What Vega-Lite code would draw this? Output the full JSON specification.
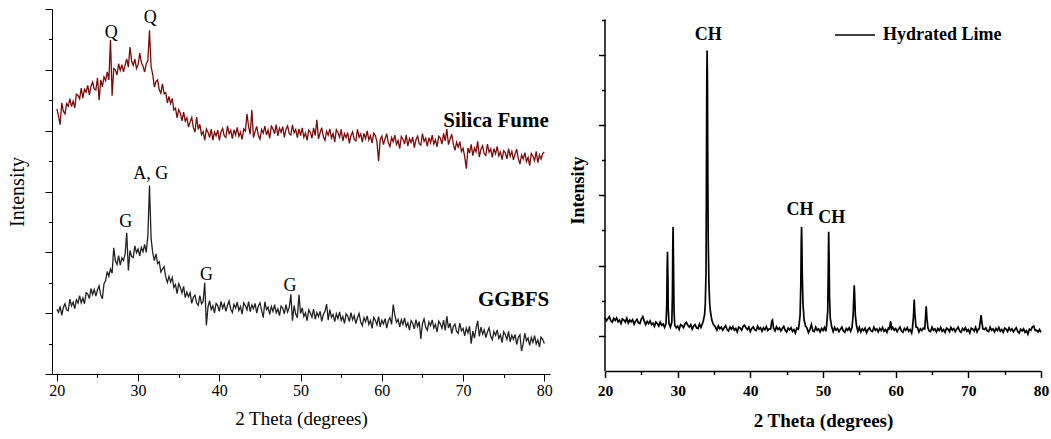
{
"$schema":"https://vega.github.io/schema/vega-lite/v6.json",
"background":"white",
"padding":{"left":7,"top":8,"right":5,"bottom":5},
"spacing":16,
"config":{"font":"Liberation Serif","view":{"stroke":null},"axis":{"grid":false,"domainColor":"#000","tickColor":"#000","labelColor":"#000","titleColor":"#000","labelFont":"Liberation Serif","titleFont":"Liberation Serif","labelFlush":false,"labelOverlap":false,"labelBound":false},"text":{"font":"Liberation Serif","color":"#000"},"title":{"font":"Liberation Serif"}},
"datasets":{
"xrd":[
{"x":20.0,"sf":8.72,"gg":2.13},{"x":20.2,"sf":8.48,"gg":2.03},{"x":20.4,"sf":8.2,"gg":2.22},{"x":20.6,"sf":8.91,"gg":1.93},{"x":20.8,"sf":8.64,"gg":2.19},
{"x":21.0,"sf":8.55,"gg":2.31},{"x":21.2,"sf":8.89,"gg":2.11},{"x":21.4,"sf":8.80,"gg":2.08},{"x":21.6,"sf":9.05,"gg":2.46},{"x":21.8,"sf":8.79,"gg":2.24},
{"x":22.0,"sf":8.97,"gg":2.36},{"x":22.2,"sf":8.75,"gg":2.15},{"x":22.4,"sf":9.20,"gg":2.44},{"x":22.6,"sf":9.16,"gg":2.33},{"x":22.8,"sf":9.05,"gg":2.58},
{"x":23.0,"sf":9.40,"gg":2.34},{"x":23.2,"sf":9.07,"gg":2.50},{"x":23.4,"sf":9.36,"gg":2.31},{"x":23.6,"sf":9.27,"gg":2.67},{"x":23.8,"sf":9.49,"gg":2.63},
{"x":24.0,"sf":9.18,"gg":2.48},{"x":24.2,"sf":9.46,"gg":2.81},{"x":24.4,"sf":9.60,"gg":2.61},{"x":24.6,"sf":9.37,"gg":2.78},{"x":24.8,"sf":9.34,"gg":2.56},
{"x":25.0,"sf":9.74,"gg":2.77},{"x":25.2,"sf":9.0,"gg":2.90},{"x":25.4,"sf":9.67,"gg":2.60},{"x":25.6,"sf":9.44,"gg":2.47},{"x":25.8,"sf":9.77,"gg":2.97},
{"x":26.0,"sf":9.64,"gg":3.07},{"x":26.2,"sf":9.93,"gg":3.37},{"x":26.4,"sf":9.67,"gg":3.21},{"x":26.6,"sf":10.98,"gg":3.45},{"x":26.8,"sf":9.15,"gg":3.31},
{"x":27.0,"sf":10.04,"gg":4.15},{"x":27.2,"sf":10.00,"gg":3.72},{"x":27.4,"sf":9.83,"gg":3.60},{"x":27.6,"sf":10.20,"gg":3.89},{"x":27.8,"sf":9.98,"gg":3.58},
{"x":28.0,"sf":10.17,"gg":3.82},{"x":28.2,"sf":9.93,"gg":3.73},{"x":28.4,"sf":10.16,"gg":3.94},{"x":28.6,"sf":10.36,"gg":4.64},{"x":28.8,"sf":10.09,"gg":3.40},
{"x":29.0,"sf":10.75,"gg":4.06},{"x":29.2,"sf":10.29,"gg":3.86},{"x":29.4,"sf":10.15,"gg":3.83},{"x":29.6,"sf":10.35,"gg":4.21},{"x":29.8,"sf":10.04,"gg":3.99},
{"x":30.0,"sf":10.17,"gg":4.11},{"x":30.2,"sf":10.55,"gg":3.88},{"x":30.4,"sf":10.24,"gg":4.16},{"x":30.6,"sf":10.12,"gg":4.02},{"x":30.8,"sf":9.93,"gg":4.26},
{"x":31.0,"sf":10.20,"gg":4.00},{"x":31.2,"sf":10.30,"gg":4.55},{"x":31.4,"sf":11.30,"gg":6.20},{"x":31.6,"sf":10.10,"gg":4.45},{"x":31.8,"sf":9.85,"gg":3.98},
{"x":32.0,"sf":9.43,"gg":3.73},{"x":32.2,"sf":9.62,"gg":3.95},{"x":32.4,"sf":9.67,"gg":3.63},{"x":32.6,"sf":9.35,"gg":3.69},{"x":32.8,"sf":9.23,"gg":3.35},
{"x":33.0,"sf":9.54,"gg":3.45},{"x":33.2,"sf":9.21,"gg":3.53},{"x":33.4,"sf":9.25,"gg":3.19},{"x":33.6,"sf":8.91,"gg":3.01},{"x":33.8,"sf":9.13,"gg":3.21},
{"x":34.0,"sf":8.89,"gg":3.02},{"x":34.2,"sf":9.06,"gg":3.17},{"x":34.4,"sf":8.68,"gg":2.85},{"x":34.6,"sf":8.74,"gg":2.94},{"x":34.8,"sf":8.42,"gg":2.64},
{"x":35.0,"sf":8.69,"gg":2.97},{"x":35.2,"sf":8.57,"gg":2.84},{"x":35.4,"sf":8.32,"gg":2.66},{"x":35.6,"sf":8.61,"gg":2.88},{"x":35.8,"sf":8.31,"gg":2.51},
{"x":36.0,"sf":8.42,"gg":2.69},{"x":36.2,"sf":8.12,"gg":2.54},{"x":36.4,"sf":8.29,"gg":2.67},{"x":36.6,"sf":8.43,"gg":2.32},{"x":36.8,"sf":8.10,"gg":2.52},
{"x":37.0,"sf":7.95,"gg":2.59},{"x":37.2,"sf":8.45,"gg":2.34},{"x":37.4,"sf":8.04,"gg":2.26},{"x":37.6,"sf":8.21,"gg":2.58},{"x":37.8,"sf":7.87,"gg":2.31},
{"x":38.0,"sf":7.97,"gg":2.38},{"x":38.2,"sf":7.68,"gg":3.00},{"x":38.4,"sf":8.06,"gg":1.60},{"x":38.6,"sf":7.95,"gg":2.20},{"x":38.8,"sf":7.77,"gg":2.41},
{"x":39.0,"sf":8.05,"gg":2.12},{"x":39.2,"sf":7.69,"gg":2.24},{"x":39.4,"sf":7.95,"gg":2.01},{"x":39.6,"sf":7.83,"gg":2.32},{"x":39.8,"sf":8.02,"gg":2.25},
{"x":40.0,"sf":7.68,"gg":2.06},{"x":40.2,"sf":7.96,"gg":2.39},{"x":40.4,"sf":8.08,"gg":2.16},{"x":40.6,"sf":7.83,"gg":2.31},{"x":40.8,"sf":7.78,"gg":2.06},
{"x":41.0,"sf":8.16,"gg":2.25},{"x":41.2,"sf":7.90,"gg":2.40},{"x":41.4,"sf":8.01,"gg":2.13},{"x":41.6,"sf":7.74,"gg":2.02},{"x":41.8,"sf":8.03,"gg":2.29},
{"x":42.0,"sf":7.86,"gg":2.17},{"x":42.2,"sf":8.11,"gg":2.36},{"x":42.4,"sf":7.81,"gg":2.09},{"x":42.6,"sf":7.95,"gg":2.22},{"x":42.8,"sf":7.71,"gg":1.97},
{"x":43.0,"sf":8.06,"gg":2.34},{"x":43.2,"sf":7.99,"gg":2.25},{"x":43.4,"sf":8.55,"gg":2.11},{"x":43.6,"sf":8.13,"gg":2.38},{"x":43.8,"sf":7.88,"gg":2.05},
{"x":44.0,"sf":8.68,"gg":2.27},{"x":44.2,"sf":7.77,"gg":2.15},{"x":44.4,"sf":7.97,"gg":2.32},{"x":44.6,"sf":8.14,"gg":2.00},{"x":44.8,"sf":7.84,"gg":2.24},
{"x":45.0,"sf":7.72,"gg":2.34},{"x":45.2,"sf":8.04,"gg":2.10},{"x":45.4,"sf":7.92,"gg":1.85},{"x":45.6,"sf":8.15,"gg":2.37},{"x":45.8,"sf":7.86,"gg":2.12},
{"x":46.0,"sf":8.02,"gg":2.20},{"x":46.2,"sf":7.75,"gg":1.96},{"x":46.4,"sf":8.15,"gg":2.22},{"x":46.6,"sf":8.06,"gg":2.06},{"x":46.8,"sf":7.90,"gg":2.28},
{"x":47.0,"sf":8.20,"gg":2.01},{"x":47.2,"sf":7.83,"gg":2.14},{"x":47.4,"sf":8.08,"gg":1.92},{"x":47.6,"sf":7.95,"gg":2.23},{"x":47.8,"sf":8.13,"gg":2.16},
{"x":48.0,"sf":7.78,"gg":1.98},{"x":48.2,"sf":8.04,"gg":2.28},{"x":48.4,"sf":8.16,"gg":2.04},{"x":48.6,"sf":7.91,"gg":2.18},{"x":48.8,"sf":7.86,"gg":2.62},
{"x":49.0,"sf":8.19,"gg":1.75},{"x":49.2,"sf":7.93,"gg":2.25},{"x":49.4,"sf":8.04,"gg":1.97},{"x":49.6,"sf":7.77,"gg":1.85},{"x":49.8,"sf":8.06,"gg":2.60},
{"x":50.0,"sf":7.84,"gg":1.99},{"x":50.2,"sf":8.09,"gg":2.17},{"x":50.4,"sf":7.78,"gg":1.89},{"x":50.6,"sf":7.92,"gg":2.01},{"x":50.8,"sf":7.68,"gg":1.75},
{"x":51.0,"sf":8.02,"gg":2.11},{"x":51.2,"sf":7.95,"gg":2.01},{"x":51.4,"sf":7.75,"gg":1.87},{"x":51.6,"sf":8.09,"gg":2.13},{"x":51.8,"sf":7.84,"gg":1.80},
{"x":52.0,"sf":8.36,"gg":2.02},{"x":52.2,"sf":7.73,"gg":1.89},{"x":52.4,"sf":7.93,"gg":2.06},{"x":52.6,"sf":8.10,"gg":1.73},{"x":52.8,"sf":7.80,"gg":1.96},
{"x":53.0,"sf":7.68,"gg":2.06},{"x":53.2,"sf":7.98,"gg":2.30},{"x":53.4,"sf":7.85,"gg":1.77},{"x":53.6,"sf":8.06,"gg":2.12},{"x":53.8,"sf":7.76,"gg":1.87},
{"x":54.0,"sf":7.90,"gg":1.96},{"x":54.2,"sf":7.63,"gg":1.72},{"x":54.4,"sf":8.03,"gg":1.98},{"x":54.6,"sf":7.94,"gg":1.82},{"x":54.8,"sf":7.78,"gg":2.04},
{"x":55.0,"sf":8.04,"gg":1.76},{"x":55.2,"sf":7.66,"gg":1.89},{"x":55.4,"sf":7.90,"gg":1.66},{"x":55.6,"sf":7.77,"gg":1.98},{"x":55.8,"sf":7.94,"gg":1.90},
{"x":56.0,"sf":7.58,"gg":1.72},{"x":56.2,"sf":7.84,"gg":2.02},{"x":56.4,"sf":7.96,"gg":1.78},{"x":56.6,"sf":7.71,"gg":1.92},{"x":56.8,"sf":7.66,"gg":1.66},
{"x":57.0,"sf":8.04,"gg":1.85},{"x":57.2,"sf":7.78,"gg":1.99},{"x":57.4,"sf":7.89,"gg":1.71},{"x":57.6,"sf":7.62,"gg":1.59},{"x":57.8,"sf":7.91,"gg":1.85},
{"x":58.0,"sf":7.74,"gg":1.72},{"x":58.2,"sf":7.99,"gg":1.91},{"x":58.4,"sf":7.69,"gg":1.63},{"x":58.6,"sf":7.83,"gg":1.76},{"x":58.8,"sf":7.59,"gg":1.50},
{"x":59.0,"sf":7.92,"gg":1.86},{"x":59.2,"sf":7.84,"gg":1.77},{"x":59.4,"sf":7.63,"gg":1.62},{"x":59.6,"sf":7.00,"gg":1.89},{"x":59.8,"sf":7.71,"gg":1.55},
{"x":60.0,"sf":7.82,"gg":1.77},{"x":60.2,"sf":7.54,"gg":1.65},{"x":60.4,"sf":7.74,"gg":1.82},{"x":60.6,"sf":7.90,"gg":1.51},{"x":60.8,"sf":7.60,"gg":1.75},
{"x":61.0,"sf":7.48,"gg":1.85},{"x":61.2,"sf":7.77,"gg":1.63},{"x":61.4,"sf":7.64,"gg":2.28},{"x":61.6,"sf":7.85,"gg":1.94},{"x":61.8,"sf":7.55,"gg":1.70},
{"x":62.0,"sf":7.68,"gg":1.80},{"x":62.2,"sf":7.41,"gg":1.55},{"x":62.4,"sf":7.81,"gg":1.79},{"x":62.6,"sf":7.72,"gg":1.63},{"x":62.8,"sf":7.56,"gg":1.84},
{"x":63.0,"sf":7.86,"gg":1.56},{"x":63.2,"sf":7.49,"gg":1.68},{"x":63.4,"sf":7.74,"gg":1.44},{"x":63.6,"sf":7.61,"gg":1.75},{"x":63.8,"sf":7.79,"gg":1.67},
{"x":64.0,"sf":7.44,"gg":1.48},{"x":64.2,"sf":7.70,"gg":1.79},{"x":64.4,"sf":7.82,"gg":1.56},{"x":64.6,"sf":7.57,"gg":1.72},{"x":64.8,"sf":7.52,"gg":1.15},
{"x":65.0,"sf":7.90,"gg":1.66},{"x":65.2,"sf":7.64,"gg":1.81},{"x":65.4,"sf":7.75,"gg":1.54},{"x":65.6,"sf":7.48,"gg":1.44},{"x":65.8,"sf":7.77,"gg":1.71},
{"x":66.0,"sf":7.60,"gg":1.59},{"x":66.2,"sf":7.85,"gg":1.78},{"x":66.4,"sf":7.56,"gg":1.51},{"x":66.6,"sf":7.70,"gg":1.63},{"x":66.8,"sf":7.47,"gg":1.38},
{"x":67.0,"sf":7.82,"gg":1.74},{"x":67.2,"sf":7.76,"gg":1.65},{"x":67.4,"sf":7.56,"gg":1.50},{"x":67.6,"sf":7.91,"gg":1.77},{"x":67.8,"sf":7.66,"gg":1.43},
{"x":68.0,"sf":8.05,"gg":1.90},{"x":68.2,"sf":7.54,"gg":1.51},{"x":68.4,"sf":7.72,"gg":1.67},{"x":68.6,"sf":7.88,"gg":1.33},{"x":68.8,"sf":7.56,"gg":1.56},
{"x":69.0,"sf":7.35,"gg":1.64},{"x":69.2,"sf":7.62,"gg":1.40},{"x":69.4,"sf":7.46,"gg":1.34},{"x":69.6,"sf":7.64,"gg":1.67},{"x":69.8,"sf":7.31,"gg":1.42},
{"x":70.0,"sf":7.42,"gg":1.50},{"x":70.2,"sf":7.14,"gg":1.25},{"x":70.4,"sf":6.75,"gg":1.51},{"x":70.6,"sf":7.43,"gg":1.35},{"x":70.8,"sf":7.26,"gg":1.57},
{"x":71.0,"sf":7.55,"gg":1.00},{"x":71.2,"sf":7.18,"gg":1.41},{"x":71.4,"sf":7.43,"gg":1.18},{"x":71.6,"sf":7.30,"gg":1.50},{"x":71.8,"sf":7.65,"gg":1.75},
{"x":72.0,"sf":7.13,"gg":1.24},{"x":72.2,"sf":7.39,"gg":1.54},{"x":72.4,"sf":7.50,"gg":1.31},{"x":72.6,"sf":7.24,"gg":1.45},{"x":72.8,"sf":7.19,"gg":1.20},
{"x":73.0,"sf":7.56,"gg":1.38},{"x":73.2,"sf":7.29,"gg":1.52},{"x":73.4,"sf":7.40,"gg":1.25},{"x":73.6,"sf":7.12,"gg":1.13},{"x":73.8,"sf":7.41,"gg":1.40},
{"x":74.0,"sf":7.24,"gg":1.27},{"x":74.2,"sf":7.48,"gg":1.45},{"x":74.4,"sf":7.17,"gg":1.17},{"x":74.6,"sf":7.30,"gg":1.29},{"x":74.8,"sf":7.05,"gg":1.03},
{"x":75.0,"sf":7.34,"gg":1.39},{"x":75.2,"sf":7.27,"gg":1.29},{"x":75.4,"sf":7.07,"gg":1.14},{"x":75.6,"sf":7.41,"gg":1.40},{"x":75.8,"sf":7.16,"gg":1.06},
{"x":76.0,"sf":7.32,"gg":1.27},{"x":76.2,"sf":7.04,"gg":1.14},{"x":76.4,"sf":7.23,"gg":1.30},{"x":76.6,"sf":7.39,"gg":0.97},{"x":76.8,"sf":7.08,"gg":1.20},
{"x":77.0,"sf":6.90,"gg":1.29},{"x":77.2,"sf":7.20,"gg":0.75},{"x":77.4,"sf":7.07,"gg":1.00},{"x":77.6,"sf":7.28,"gg":1.34},{"x":77.8,"sf":6.98,"gg":1.09},
{"x":78.0,"sf":7.12,"gg":1.18},{"x":78.2,"sf":6.85,"gg":0.94},{"x":78.4,"sf":7.25,"gg":1.20},{"x":78.6,"sf":7.16,"gg":1.04},{"x":78.8,"sf":7.01,"gg":1.26},
{"x":79.0,"sf":7.32,"gg":0.99},{"x":79.2,"sf":6.95,"gg":1.12},{"x":79.4,"sf":7.20,"gg":0.89},{"x":79.6,"sf":7.07,"gg":1.21},{"x":79.8,"sf":7.25,"gg":1.14},
{"x":80.0,"sf":7.30,"gg":1.00}
],
"hl":[
{"x":20.0,"y":0.52},{"x":20.2,"y":0.43},{"x":20.4,"y":0.49},{"x":20.6,"y":0.55},{"x":20.8,"y":0.43},{"x":21.0,"y":0.39},{"x":21.2,"y":0.50},{"x":21.4,"y":0.44},{"x":21.6,"y":0.51},{"x":21.8,"y":0.40},
{"x":22.0,"y":0.45},{"x":22.2,"y":0.35},{"x":22.4,"y":0.48},{"x":22.6,"y":0.45},{"x":22.8,"y":0.39},{"x":23.0,"y":0.50},{"x":23.2,"y":0.36},{"x":23.4,"y":0.45},{"x":23.6,"y":0.40},{"x":23.8,"y":0.46},
{"x":24.0,"y":0.33},{"x":24.2,"y":0.42},{"x":24.4,"y":0.47},{"x":24.6,"y":0.37},{"x":24.8,"y":0.35},{"x":25.0,"y":0.48},{"x":25.2,"y":0.55},{"x":25.4,"y":0.42},{"x":25.6,"y":0.32},{"x":25.8,"y":0.41},
{"x":26.0,"y":0.35},{"x":26.2,"y":0.43},{"x":26.4,"y":0.32},{"x":26.6,"y":0.36},{"x":26.8,"y":0.27},{"x":27.0,"y":0.39},{"x":27.2,"y":0.35},{"x":27.4,"y":0.28},{"x":27.6,"y":0.39},{"x":27.8,"y":0.30},
{"x":28.0,"y":0.34},{"x":28.2,"y":0.24},{"x":28.4,"y":0.35},{"x":28.5,"y":0.9},{"x":28.55,"y":1.9},{"x":28.6,"y":2.39},{"x":28.65,"y":1.8},{"x":28.7,"y":0.8},{"x":28.8,"y":0.35},
{"x":29.0,"y":0.25},{"x":29.2,"y":0.4},{"x":29.28,"y":1.2},{"x":29.33,"y":2.6},{"x":29.37,"y":3.1},{"x":29.42,"y":2.2},{"x":29.5,"y":0.7},{"x":29.6,"y":0.3},
{"x":29.8,"y":0.23},{"x":30.0,"y":0.28},{"x":30.2,"y":0.18},{"x":30.4,"y":0.32},{"x":30.6,"y":0.29},{"x":30.8,"y":0.23},{"x":31.0,"y":0.34},{"x":31.2,"y":0.38},{"x":31.4,"y":0.30},{"x":31.6,"y":0.25},
{"x":31.8,"y":0.32},{"x":32.0,"y":0.19},{"x":32.2,"y":0.28},{"x":32.4,"y":0.32},{"x":32.6,"y":0.23},{"x":32.8,"y":0.21},{"x":33.0,"y":0.34},{"x":33.2,"y":0.24},
{"x":33.5,"y":0.4},{"x":33.7,"y":0.6},{"x":33.8,"y":0.9},{"x":33.9,"y":1.8},{"x":33.95,"y":4.0},{"x":34.0,"y":7.0},{"x":34.05,"y":8.12},{"x":34.1,"y":7.2},{"x":34.15,"y":4.5},{"x":34.2,"y":2.8},
{"x":34.3,"y":1.5},{"x":34.4,"y":0.95},{"x":34.5,"y":0.7},{"x":34.7,"y":0.45},{"x":34.9,"y":0.33},{"x":35.2,"y":0.25},
{"x":35.4,"y":0.16},{"x":35.6,"y":0.28},{"x":35.8,"y":0.20},{"x":36.0,"y":0.25},{"x":36.2,"y":0.16},{"x":36.4,"y":0.23},{"x":36.6,"y":0.29},{"x":36.8,"y":0.18},{"x":37.0,"y":0.14},{"x":37.2,"y":0.25},
{"x":37.4,"y":0.19},{"x":37.6,"y":0.26},{"x":37.8,"y":0.16},{"x":38.0,"y":0.21},{"x":38.2,"y":0.11},{"x":38.4,"y":0.25},{"x":38.6,"y":0.22},{"x":38.8,"y":0.16},{"x":39.0,"y":0.27},{"x":39.2,"y":0.30},
{"x":39.4,"y":0.23},{"x":39.6,"y":0.18},{"x":39.8,"y":0.25},{"x":40.0,"y":0.12},{"x":40.2,"y":0.21},{"x":40.4,"y":0.26},{"x":40.6,"y":0.17},{"x":40.8,"y":0.15},{"x":41.0,"y":0.28},{"x":41.2,"y":0.19},
{"x":41.4,"y":0.23},{"x":41.6,"y":0.13},{"x":41.8,"y":0.23},{"x":42.0,"y":0.17},{"x":42.2,"y":0.26},{"x":42.4,"y":0.15},{"x":42.6,"y":0.20},
{"x":42.8,"y":0.2},{"x":42.95,"y":0.42},{"x":43.05,"y":0.45},{"x":43.2,"y":0.22},
{"x":43.4,"y":0.14},{"x":43.6,"y":0.26},{"x":43.8,"y":0.18},{"x":44.0,"y":0.23},{"x":44.2,"y":0.14},{"x":44.4,"y":0.21},{"x":44.6,"y":0.27},{"x":44.8,"y":0.16},{"x":45.0,"y":0.11},{"x":45.2,"y":0.22},
{"x":45.4,"y":0.17},{"x":45.6,"y":0.23},{"x":45.8,"y":0.13},{"x":46.0,"y":0.18},{"x":46.2,"y":0.08},{"x":46.4,"y":0.22},{"x":46.6,"y":0.19},
{"x":46.7,"y":0.3},{"x":46.85,"y":0.6},{"x":46.95,"y":1.5},{"x":47.0,"y":2.6},{"x":47.05,"y":3.1},{"x":47.1,"y":2.6},{"x":47.15,"y":1.7},{"x":47.25,"y":0.9},{"x":47.4,"y":0.45},{"x":47.6,"y":0.28},
{"x":47.8,"y":0.22},{"x":48.0,"y":0.09},{"x":48.2,"y":0.18},{"x":48.4,"y":0.32},{"x":48.6,"y":0.14},{"x":48.8,"y":0.12},{"x":49.0,"y":0.25},{"x":49.2,"y":0.16},{"x":49.4,"y":0.20},{"x":49.6,"y":0.11},
{"x":49.8,"y":0.21},{"x":50.0,"y":0.15},{"x":50.2,"y":0.24},{"x":50.4,"y":0.13},
{"x":50.5,"y":0.3},{"x":50.65,"y":0.7},{"x":50.72,"y":1.8},{"x":50.78,"y":2.96},{"x":50.84,"y":2.2},{"x":50.9,"y":1.1},{"x":51.0,"y":0.5},{"x":51.2,"y":0.25},
{"x":51.4,"y":0.12},{"x":51.6,"y":0.24},{"x":51.8,"y":0.16},{"x":52.0,"y":0.21},{"x":52.2,"y":0.12},{"x":52.4,"y":0.19},{"x":52.6,"y":0.25},{"x":52.8,"y":0.14},{"x":53.0,"y":0.10},{"x":53.2,"y":0.21},
{"x":53.4,"y":0.16},{"x":53.6,"y":0.23},{"x":53.8,"y":0.13},
{"x":54.0,"y":0.25},{"x":54.15,"y":0.6},{"x":54.25,"y":1.2},{"x":54.3,"y":1.44},{"x":54.35,"y":1.2},{"x":54.45,"y":0.6},{"x":54.6,"y":0.3},
{"x":54.8,"y":0.13},{"x":55.0,"y":0.24},{"x":55.2,"y":0.11},{"x":55.4,"y":0.20},{"x":55.6,"y":0.15},{"x":55.8,"y":0.22},{"x":56.0,"y":0.09},{"x":56.2,"y":0.18},{"x":56.4,"y":0.23},{"x":56.6,"y":0.14},
{"x":56.8,"y":0.12},{"x":57.0,"y":0.25},{"x":57.2,"y":0.16},{"x":57.4,"y":0.20},{"x":57.6,"y":0.11},{"x":57.8,"y":0.21},{"x":58.0,"y":0.15},{"x":58.2,"y":0.24},{"x":58.4,"y":0.13},{"x":58.6,"y":0.18},
{"x":58.8,"y":0.10},{"x":59.0,"y":0.22},{"x":59.15,"y":0.2},{"x":59.3,"y":0.42},{"x":59.45,"y":0.2},
{"x":59.6,"y":0.24},{"x":59.8,"y":0.16},{"x":60.0,"y":0.21},{"x":60.2,"y":0.12},{"x":60.4,"y":0.19},{"x":60.6,"y":0.25},{"x":60.8,"y":0.14},{"x":61.0,"y":0.10},{"x":61.2,"y":0.21},{"x":61.4,"y":0.16},
{"x":61.6,"y":0.23},{"x":61.8,"y":0.13},{"x":62.0,"y":0.18},{"x":62.2,"y":0.08},
{"x":62.3,"y":0.2},{"x":62.45,"y":0.55},{"x":62.55,"y":1.03},{"x":62.65,"y":0.6},{"x":62.8,"y":0.25},
{"x":63.0,"y":0.24},{"x":63.2,"y":0.11},{"x":63.4,"y":0.20},{"x":63.6,"y":0.15},{"x":63.8,"y":0.22},
{"x":64.0,"y":0.2},{"x":64.1,"y":0.5},{"x":64.2,"y":0.84},{"x":64.3,"y":0.5},{"x":64.45,"y":0.22},
{"x":64.6,"y":0.14},{"x":64.8,"y":0.12},{"x":65.0,"y":0.25},{"x":65.2,"y":0.16},{"x":65.4,"y":0.20},{"x":65.6,"y":0.11},{"x":65.8,"y":0.21},{"x":66.0,"y":0.15},{"x":66.2,"y":0.24},{"x":66.4,"y":0.13},
{"x":66.6,"y":0.18},{"x":66.8,"y":0.10},{"x":67.0,"y":0.22},{"x":67.2,"y":0.19},{"x":67.4,"y":0.12},{"x":67.6,"y":0.24},{"x":67.8,"y":0.16},{"x":68.0,"y":0.21},{"x":68.2,"y":0.12},{"x":68.4,"y":0.19},
{"x":68.6,"y":0.25},{"x":68.8,"y":0.14},{"x":69.0,"y":0.10},{"x":69.2,"y":0.21},{"x":69.4,"y":0.16},{"x":69.6,"y":0.23},{"x":69.8,"y":0.13},{"x":70.0,"y":0.18},{"x":70.2,"y":0.08},{"x":70.4,"y":0.22},
{"x":70.6,"y":0.19},{"x":70.8,"y":0.13},{"x":71.0,"y":0.24},{"x":71.2,"y":0.11},{"x":71.4,"y":0.20},
{"x":71.5,"y":0.2},{"x":71.65,"y":0.42},{"x":71.75,"y":0.59},{"x":71.85,"y":0.42},{"x":72.0,"y":0.2},
{"x":72.2,"y":0.18},{"x":72.4,"y":0.23},{"x":72.6,"y":0.14},{"x":72.8,"y":0.12},{"x":73.0,"y":0.25},{"x":73.2,"y":0.16},{"x":73.4,"y":0.20},{"x":73.6,"y":0.11},{"x":73.8,"y":0.21},{"x":74.0,"y":0.15},
{"x":74.2,"y":0.24},{"x":74.4,"y":0.13},{"x":74.6,"y":0.18},{"x":74.8,"y":0.10},{"x":75.0,"y":0.22},{"x":75.2,"y":0.19},{"x":75.4,"y":0.12},{"x":75.6,"y":0.23},{"x":75.8,"y":0.15},{"x":76.0,"y":0.20},
{"x":76.2,"y":0.11},{"x":76.4,"y":0.18},{"x":76.6,"y":0.23},{"x":76.8,"y":0.12},{"x":77.0,"y":0.08},{"x":77.2,"y":0.19},{"x":77.4,"y":0.14},{"x":77.6,"y":0.20},{"x":77.8,"y":0.10},{"x":78.0,"y":0.15},
{"x":78.2,"y":0.05},{"x":78.4,"y":0.19},{"x":78.6,"y":0.16},{"x":78.8,"y":0.25},{"x":79.0,"y":0.28},{"x":79.2,"y":0.15},{"x":79.4,"y":0.16},{"x":79.6,"y":0.11},{"x":79.8,"y":0.18},{"x":80.0,"y":0.10}
],
"rax":[{"x":20,"y":-1,"y2":9}],
"lblL":[{"x":26.7,"y":11.2,"t":"Q"},{"x":31.5,"y":11.72,"t":"Q"},{"x":31.57,"y":6.56,"t":"A, G"},{"x":28.48,"y":4.99,"t":"G"},{"x":38.41,"y":3.24,"t":"G"},{"x":48.7,"y":2.88,"t":"G"}],
"lblLb":[{"x":80.55,"y":8.33,"t":"Silica Fume"},{"x":80.6,"y":2.44,"t":"GGBFS"}],
"lblR":[{"x":34.22,"y":8.56,"t":"CH"},{"x":46.83,"y":3.57,"t":"CH"},{"x":51.2,"y":3.35,"t":"CH"}]
},
"hconcat":[
{
"width":498,"height":365,
"resolve":{"scale":{"x":"shared","y":"shared"},"axis":{"x":"independent","y":"independent"}},
"layer":[
{"data":{"name":"xrd"},"mark":{"type":"line","color":"#7a0b0b","strokeWidth":1.3},
"encoding":{
"x":{"field":"x","type":"quantitative","scale":{"domain":[19.4,80.7],"nice":false,"zero":false},
"axis":{"orient":"bottom","values":[20,30,40,50,60,70,80],"tickSize":7,"labelFontSize":16,"labelPadding":1,"title":"2 Theta (degrees)","titleFontSize":19,"titleFontWeight":"normal","titlePadding":11}},
"y":{"field":"sf","type":"quantitative","scale":{"domain":[0,12],"nice":false,"zero":false},
"axis":{"orient":"left","values":[0,2,4,6,8,10,12],"tickSize":7,"labels":false,"title":"Intensity","titleFontSize":20,"titleFontWeight":"normal","titlePadding":17}}}},
{"data":{"name":"xrd"},"mark":{"type":"line","color":"#222222","strokeWidth":1.3},
"encoding":{
"x":{"field":"x","type":"quantitative","axis":{"orient":"bottom","values":[25,35,45,55,65,75],"tickSize":3.5,"labels":false,"domain":false,"title":null}},
"y":{"field":"gg","type":"quantitative","axis":{"orient":"left","values":[1,3,5,7,9,11],"tickSize":3.5,"labels":false,"domain":false,"title":null}}}},
{"data":{"name":"lblL"},"mark":{"type":"text","fontSize":18,"baseline":"middle","align":"center"},
"encoding":{"x":{"field":"x","type":"quantitative","axis":null},"y":{"field":"y","type":"quantitative","axis":null},"text":{"field":"t"}}},
{"data":{"name":"lblLb"},"mark":{"type":"text","fontSize":21,"fontWeight":"bold","baseline":"middle","align":"right"},
"encoding":{"x":{"field":"x","type":"quantitative","axis":null},"y":{"field":"y","type":"quantitative","axis":null},"text":{"field":"t"}}}
]
},
{
"width":436,"height":362,
"resolve":{"scale":{"x":"shared","y":"shared"},"axis":{"x":"independent","y":"independent"}},
"layer":[
{"data":{"name":"hl"},"mark":{"type":"line","strokeWidth":1.7},
"encoding":{
"x":{"field":"x","type":"quantitative","scale":{"domain":[20,80],"nice":false,"zero":false},
"axis":{"orient":"bottom","values":[20,30,40,50,60,70,80],"tickSize":6.5,"labelFontSize":15.5,"labelFontWeight":"bold","labelPadding":6,"title":"2 Theta (degrees)","titleFontSize":19,"titleFontWeight":"bold","titlePadding":12,"domainWidth":1.5,"tickWidth":1.5}},
"y":{"field":"y","type":"quantitative","scale":{"domain":[-1,9.3],"nice":false,"zero":false},
"axis":{"orient":"left","values":[0,2,4,6,8],"tickSize":6.5,"labels":false,"domain":false,"title":"Intensity","titleFontSize":18,"titleFontWeight":"bold","titlePadding":10,"tickWidth":1.5}},
"color":{"datum":"Hydrated Lime","scale":{"range":["#000000"]},
"legend":{"orient":"none","legendX":782,"legendY":5,"title":null,"symbolType":"stroke","symbolSize":1600,"symbolStrokeWidth":1.7,"labelFont":"Liberation Serif","labelFontSize":18,"labelFontWeight":"bold","labelColor":"#000","labelOffset":7,"padding":0}}}},
{"data":{"name":"rax"},"mark":{"type":"rule","color":"#000000","strokeWidth":1.5},
"encoding":{"x":{"field":"x","type":"quantitative","axis":null},"y":{"field":"y","type":"quantitative","axis":null},"y2":{"field":"y2"}}},
{"data":{"name":"lblR"},"mark":{"type":"text","fontSize":18,"fontWeight":"bold","baseline":"middle","align":"center"},
"encoding":{"x":{"field":"x","type":"quantitative","axis":{"orient":"bottom","values":[25,35,45,55,65,75],"tickSize":3.5,"labels":false,"domain":false,"title":null,"tickWidth":1.5}},
"y":{"field":"y","type":"quantitative","axis":{"orient":"left","values":[1,3,5,7,9],"tickSize":3.5,"labels":false,"domain":false,"title":null,"tickWidth":1.5}},
"text":{"field":"t"}}}
]
}
]
}
